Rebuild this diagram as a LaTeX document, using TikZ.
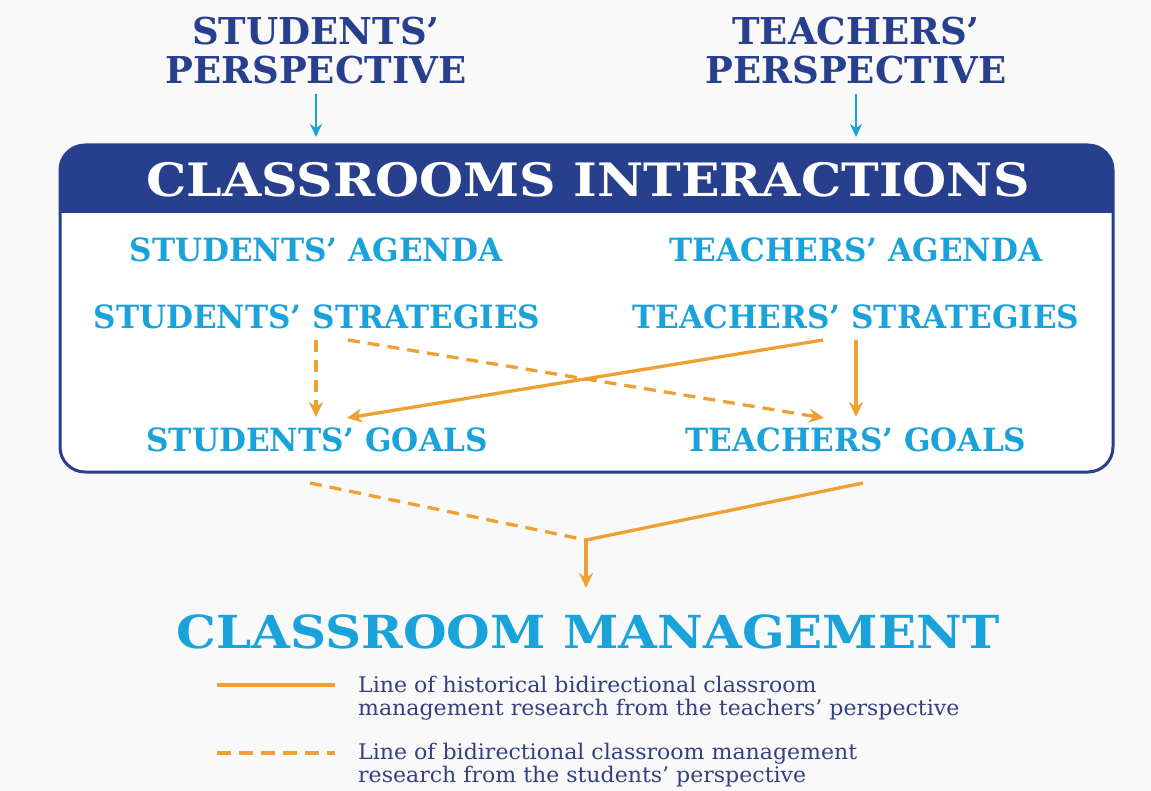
\documentclass[tikz,border=0pt]{standalone}
\usepackage{fontspec}
\usetikzlibrary{arrows.meta}
\newfontfamily\titlefont{DejaVu Serif}[BoldFont={DejaVu Serif Bold}]
\newfontfamily\headfont{DejaVu Serif Bold}[FakeStretch=1.1]
\newfontfamily\subfont{DejaVu Serif Condensed Bold}[FakeStretch=1.08]
\newfontfamily\legfont{DejaVu Serif Condensed}[FakeStretch=1.14]
\definecolor{navy}{HTML}{283F8E}
\definecolor{sky}{HTML}{1AA3DA}
\definecolor{orng}{HTML}{EFA032}
\definecolor{legtxt}{HTML}{34407F}
\definecolor{bg}{HTML}{F9F9F9}
\tikzset{
  persp/.style={text=navy, font=\titlefont\bfseries\fontsize{37}{38}\selectfont, align=center, inner sep=0pt},
  sub/.style={text=sky, font=\subfont\fontsize{32}{33}\selectfont, inner sep=0pt},
  bluearrow/.style={draw=sky, line width=2.5pt, -{Stealth[length=13pt,width=12pt]}},
  solidline/.style={draw=orng, line width=3.3pt},
  dashline/.style={draw=orng, line width=3.3pt, dash pattern=on 12pt off 8pt},
  otip/.style={-{Stealth[length=15pt,width=14pt]}},
  legend/.style={text=legtxt, font=\legfont\fontsize{21.5}{23.5}\selectfont, align=left, anchor=west, inner sep=0pt},
}
\begin{document}
\begin{tikzpicture}[x=1pt,y=-1pt]
\useasboundingbox (0,0) rectangle (1151,791);
\fill[bg] (0,0) rectangle (1151,791);
% perspectives
\node[persp] (sp) at (316,51) {STUDENTS’\\[1pt]PERSPECTIVE};
\node[persp] (tp) at (856,51) {TEACHERS’\\[1pt]PERSPECTIVE};
% box
\begin{scope}
\clip[rounded corners=25pt] (60,145) rectangle (1113,472);
\fill[white] (60,145) rectangle (1113,472);
\fill[navy] (60,145) rectangle (1113,213);
\end{scope}
\draw[navy, line width=3pt, rounded corners=25pt] (60,145) rectangle (1113,472);
\node[text=white, font=\headfont\fontsize{46}{48}\selectfont, inner sep=0pt] (ci) at (588,180) {CLASSROOMS INTERACTIONS};
\coordinate (al) at (316,137);
\coordinate (ar) at (856,137);
\draw[bluearrow] (sp.south) ++(0,9) -- (al);
\draw[bluearrow] (tp.south) ++(0,9) -- (ar);
% inner labels
\node[sub] (sa) at (316,250) {STUDENTS’ AGENDA};
\node[sub] (ta) at (856,250) {TEACHERS’ AGENDA};
\node[sub] (ss) at (317,317) {STUDENTS’ STRATEGIES};
\node[sub] (ts) at (856,317) {TEACHERS’ STRATEGIES};
\node[sub] (sg) at (317,440) {STUDENTS’ GOALS};
\node[sub] (tg) at (856,440) {TEACHERS’ GOALS};
% arrows inside
\coordinate (ss1) at (316,340);
\coordinate (ss2) at (348,340);
\coordinate (ts1) at (823,340);
\coordinate (ts2) at (856,340);
\coordinate (sg1) at (316,417);
\coordinate (sg2) at (347,418);
\coordinate (tg1) at (824,418);
\coordinate (tg2) at (856,417);
\draw[dashline, otip] (ss1) -- (sg1);
\draw[dashline, otip] (ss2) -- (tg1);
\draw[solidline, otip] (ts1) -- (sg2);
\draw[solidline, otip] (ts2) -- (tg2);
% below box
\coordinate (bl) at (310,483);
\coordinate (br) at (863,483);
\coordinate (j) at (586,540);
\coordinate (jd) at (586,588);
\draw[dashline] (bl) -- (j);
\draw[solidline] (br) -- (j);
\node[text=sky, font=\headfont\fontsize{45.5}{48}\selectfont, inner sep=0pt] (cm) at (588,632) {CLASSROOM MANAGEMENT};
\draw[solidline, otip] (j) -- (jd);
% legend
\coordinate (l1a) at (217,685);
\coordinate (l1b) at (335,685);
\coordinate (l2a) at (217,753);
\coordinate (l2b) at (335,753);
\draw[solidline] (l1a) -- (l1b);
\draw[dashline, dash pattern=on 14pt off 8pt] (l2a) -- (l2b);
\node[legend] (lg1) at (358,698) {Line of historical bidirectional classroom\\management research from the teachers’ perspective};
\node[legend] (lg2) at (358,765) {Line of bidirectional classroom management\\research from the students’ perspective};
\end{tikzpicture}
\end{document}
